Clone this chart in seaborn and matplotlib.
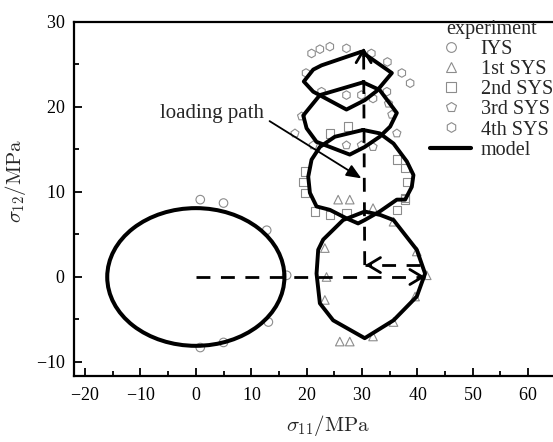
import numpy as np
import pandas as pd
import matplotlib
matplotlib.use("Agg")
import matplotlib.pyplot as plt
import seaborn as sns
from matplotlib.lines import Line2D
from matplotlib.patches import Ellipse

# ---------------- data ----------------
# experimental yield points
iys_x = [0.8, 5.0, 12.8, 16.4, 13.1, 5.0, 0.8]
iys_y = [9.1, 8.7, 5.5, 0.2, -5.3, -7.7, -8.3]

sys1_x = [25.7, 27.8, 32.0, 35.7, 23.3, 39.9, 23.6, 41.7, 23.3, 39.6, 35.7, 32.0, 26.0, 27.8]
sys1_y = [9.1, 9.1, 8.1, 6.5, 3.4, 3.0, 0.0, 0.2, -2.7, -2.3, -5.3, -7.0, -7.6, -7.6]

sys2_x = [27.5, 24.2, 36.3, 37.8, 38.1, 37.8, 19.7, 19.4, 19.7, 21.5, 24.2, 27.2, 36.3, 37.8]
sys2_y = [17.7, 16.9, 13.8, 12.8, 11.2, 9.3, 12.4, 11.2, 9.9, 7.7, 7.3, 7.5, 7.9, 9.1]

sys3_x = [19.1, 17.9, 21.2, 27.2, 29.9, 32.0, 36.3, 35.4, 34.8]
sys3_y = [18.9, 16.9, 15.5, 15.5, 15.5, 15.3, 16.9, 19.1, 20.4]

sys4_x = [20.9, 22.4, 24.2, 27.2, 31.7, 34.6, 37.2, 38.7, 19.9, 22.7, 27.2, 29.9, 32.0, 34.5]
sys4_y = [26.3, 26.8, 27.1, 26.9, 26.3, 25.3, 24.0, 22.8, 24.0, 21.8, 21.4, 21.4, 21.0, 21.8]

# model: initial yield surface (ellipse) and subsequent surfaces (vertices)
iys_center = (0.0, 0.0)
iys_a = 16.0   # semi-axis along sigma11
iys_b = 8.1    # semi-axis along sigma12

m1_x = [30.5, 33.3, 35.7, 39.9, 41.4, 39.9, 35.7, 30.5, 24.8, 22.4, 21.8, 22.1, 23.0, 26.6, 30.5]
m1_y = [7.7, 7.3, 6.7, 3.2, 0.4, -2.3, -5.1, -7.2, -5.1, -3.1, 0.4, 3.2, 4.4, 6.7, 7.7]

m2_x = [30.2, 25.1, 22.4, 20.9, 20.3, 20.6, 21.8, 24.2, 27.2, 29.3, 30.5, 33.2, 36.3, 37.8, 39.0, 39.3, 38.1, 35.7, 33.2, 30.2]
m2_y = [17.3, 16.5, 15.3, 13.8, 11.8, 9.9, 8.3, 7.9, 6.9, 6.3, 6.7, 7.7, 9.1, 9.1, 10.6, 12.0, 13.6, 15.7, 16.9, 17.3]

m3_x = [30.2, 33.2, 36.3, 35.1, 33.2, 30.5, 27.8, 21.8, 20.0, 19.4, 22.4, 30.2]
m3_y = [22.9, 22.0, 19.3, 17.7, 16.5, 15.3, 14.4, 15.9, 17.5, 19.0, 21.4, 22.9]

m4_x = [29.9, 35.4, 32.7, 30.5, 27.2, 21.2, 19.5, 21.2, 22.7, 29.9]
m4_y = [26.5, 24.0, 21.9, 20.8, 19.7, 21.8, 23.0, 24.4, 24.9, 26.5]

# loading path
path_h_x = [0.0, 41.4]
path_h_y = [0.0, 0.0]
path_back_x = [40.5, 30.6]
path_back_y = [1.4, 1.4]
path_v_x = [30.5, 30.3]
path_v_y = [1.4, 27.0]
label_arrow_tip = (29.9, 11.6)
label_text_pos = (12.3, 19.2)

series_names = ["IYS", "1st SYS", "2nd SYS", "3rd SYS", "4th SYS"]
series_markers = ["o", "^", "s", "p", "h"]

# ---------------- style ----------------
sns.set_theme(style="ticks")
plt.rcParams["font.family"] = ["Liberation Serif", "DejaVu Serif"]
plt.rcParams["mathtext.fontset"] = "cm"
plt.rcParams["axes.formatter.use_mathtext"] = True

fig = plt.figure(figsize=(5.53, 4.42), dpi=100)
ax = fig.add_axes([74 / 553, 66 / 442, 479 / 553, 354 / 442])

gray = "#8c8c8c"
pts = [(iys_x, iys_y), (sys1_x, sys1_y), (sys2_x, sys2_y), (sys3_x, sys3_y), (sys4_x, sys4_y)]
for (xs, ys), name, mk in zip(pts, series_names, series_markers):
    df = pd.DataFrame({"x": xs, "y": ys})
    sns.scatterplot(data=df, x="x", y="y", marker=mk, s=38, facecolor="none",
                    edgecolor=gray, linewidth=0.8, ax=ax, zorder=2)

# model curves
ax.add_patch(Ellipse(iys_center, 2 * iys_a, 2 * iys_b, fill=False, lw=2.9,
                     edgecolor="black", zorder=3))
for mx, my in [(m1_x, m1_y), (m2_x, m2_y), (m3_x, m3_y), (m4_x, m4_y)]:
    dfm = pd.DataFrame({"x": mx, "y": my})
    sns.lineplot(data=dfm, x="x", y="y", sort=False, estimator=None, color="black",
                 lw=2.8, ax=ax, zorder=3)

# loading path (dashed) with open arrow heads
dash = (0, (5, 3.8))
ax.plot(path_h_x, path_h_y, color="black", lw=2.0, ls=dash, zorder=4)
ax.plot(path_back_x, path_back_y, color="black", lw=2.0, ls=dash, zorder=4)
ax.plot(path_v_x, path_v_y, color="black", lw=2.0, ls=dash, zorder=4)
arrow_kw = dict(arrowstyle="->,head_length=0.5,head_width=0.3", lw=2.0, color="black",
                mutation_scale=18, shrinkA=0, shrinkB=0)
ax.annotate("", xy=(path_h_x[1], path_h_y[1]), xytext=(path_h_x[1] - 1.0, path_h_y[1]),
            arrowprops=arrow_kw, zorder=5)
ax.annotate("", xy=(path_back_x[1], path_back_y[1]), xytext=(path_back_x[1] + 1.0, path_back_y[1]),
            arrowprops=arrow_kw, zorder=5)
ax.annotate("", xy=(path_v_x[1], path_v_y[1]), xytext=(path_v_x[1], path_v_y[1] - 1.0),
            arrowprops=arrow_kw, zorder=5)

ax.annotate("loading path", xy=label_arrow_tip, xytext=label_text_pos,
            ha="right", va="center", fontsize=15,
            arrowprops=dict(arrowstyle="-|>,head_length=0.6,head_width=0.25", lw=1.3,
                            color="black", relpos=(1.0, 0.3), shrinkA=2, shrinkB=0))

# axes
ax.set_xlim(-22, 64.5)
ax.set_ylim(-11.65, 30)
ax.set_xticks([-20, -10, 0, 10, 20, 30, 40, 50, 60])
ax.set_yticks([-10, 0, 10, 20, 30])
ax.set_xticks(np.arange(-15, 65, 10), minor=True)
ax.set_yticks([-5, 5, 15, 25], minor=True)
ax.tick_params(which="both", direction="in", width=1.3, colors="black", labelsize=13)
ax.tick_params(which="major", length=6)
ax.tick_params(which="minor", length=3.5)
ax.tick_params(axis="x", pad=8)
ax.tick_params(axis="y", pad=6)
for s in ["left", "bottom", "top"]:
    ax.spines[s].set_linewidth(1.6)
    ax.spines[s].set_color("black")
ax.spines["right"].set_visible(False)

ax.set_xlabel(r"$\sigma_{11}/\mathrm{MPa}$", fontsize=15)
ax.set_ylabel(r"$\sigma_{12}/\mathrm{MPa}$", fontsize=15)
ax.xaxis.set_label_coords(0.53, -0.105)
ax.yaxis.set_label_coords(-0.095, 0.55)

# legend
handles = [Line2D([], [], marker=m, ls="none", mfc="none", mec=gray, ms=7, mew=0.8)
           for m in series_markers]
handles.append(Line2D([], [], color="black", lw=3))
labels = series_names + ["model"]
leg = ax.legend(handles, labels, title="experiment", loc="upper right",
                bbox_to_anchor=(1.0, 1 - 20 / 442), bbox_transform=fig.transFigure,
                frameon=False, fontsize=14.5, title_fontsize=14.5, labelspacing=0.05,
                handlelength=2.0, handletextpad=0.5, borderpad=0, borderaxespad=0)

fig.savefig("out.png", dpi=100)
